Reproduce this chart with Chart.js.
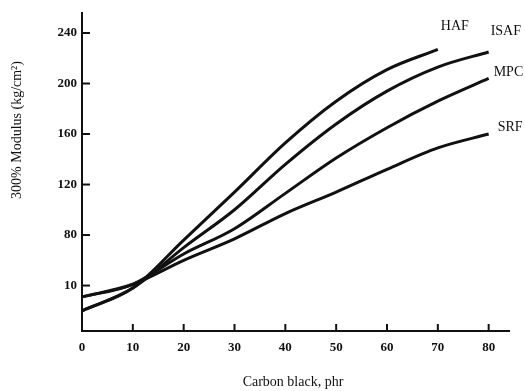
<!DOCTYPE html>
<html>
<head>
<meta charset="utf-8">
<script src="https://cdn.jsdelivr.net/npm/chart.js@4/dist/chart.umd.min.js"></script>
<style>
  html, body { margin: 0; padding: 0; background: #fff; }
  #wrap { width: 525px; height: 391px; }
</style>
</head>
<body>
<div id="wrap"><canvas id="modulusCanvas" width="525" height="391"></canvas></div>
<script>
// carbon black loading (phr) and 300% modulus (kg/cm2)
var phr = [0, 10, 20, 30, 40, 50, 60, 70, 80];
var phrHAF = [0, 10, 20, 30, 40, 50, 60, 70];
var haf = [20, 38, 76, 114, 153, 186, 211, 227];
var isaf = [20, 38, 70, 100, 136, 168, 194, 213, 225];
var mpc = [31, 41, 65, 85, 113, 141, 165, 186, 204];
var srf = [31, 41, 60, 77, 97, 114, 132, 149, 160];
var seriesNames = ["HAF", "ISAF", "MPC", "SRF"];

var xTickValues = [0, 10, 20, 30, 40, 50, 60, 70, 80];
var yTickValues = [40, 80, 120, 160, 200, 240];
var yTickLabels = ["10", "80", "120", "160", "200", "240"]; // as printed

var serif = "'Liberation Serif', 'DejaVu Serif', serif";

function pts(xs, ys) {
  return ys.map(function(v, i) { return { x: xs[i], y: v }; });
}

function line(name, data) {
  return {
    label: name,
    data: data,
    borderColor: "#111",
    borderWidth: 3,
    pointRadius: 0,
    fill: false,
    cubicInterpolationMode: "monotone"
  };
}

// tick marks point inward, axis titles and curve names sit beside the lines
var paperBits = {
  id: "paperBits",
  afterDraw: function(chart) {
    var ctx = chart.ctx;
    var xs = chart.scales.x, ys = chart.scales.y;
    var area = chart.chartArea;
    ctx.save();
    ctx.strokeStyle = "#111";
    ctx.lineWidth = 2;
    xTickValues.forEach(function(v) {
      if (v === 0) return;
      var px = xs.getPixelForValue(v);
      ctx.beginPath();
      ctx.moveTo(px, area.bottom);
      ctx.lineTo(px, area.bottom - 7);
      ctx.stroke();
    });
    yTickValues.forEach(function(v) {
      var py = ys.getPixelForValue(v);
      ctx.beginPath();
      ctx.moveTo(area.left, py);
      ctx.lineTo(area.left + 8, py);
      ctx.stroke();
    });

    ctx.fillStyle = "#111";
    ctx.font = "14px " + serif;
    ctx.textAlign = "left";
    ctx.textBaseline = "middle";
    chart.data.datasets.forEach(function(ds) {
      var last = ds.data[ds.data.length - 1];
      var px = xs.getPixelForValue(last.x);
      var py = ys.getPixelForValue(last.y);
      if (ds.label === "HAF") ctx.fillText(ds.label, px + 3, py - 23);
      else if (ds.label === "ISAF") ctx.fillText(ds.label, px + 2, py - 21);
      else if (ds.label === "SRF") ctx.fillText(ds.label, px + 9, py - 7);
      else ctx.fillText(ds.label, px + 5, py - 6);
    });

    ctx.textAlign = "center";
    ctx.fillText("Carbon black, phr", 293, 382);
    ctx.translate(17, 130);
    ctx.rotate(-Math.PI / 2);
    ctx.fillText("300% Modulus (kg/cm\u00b2)", 0, 0);
    ctx.restore();
  }
};

var ctx = document.getElementById("modulusCanvas").getContext("2d");
var chart = new Chart(ctx, {
  type: "line",
  data: {
    datasets: [
      line(seriesNames[0], pts(phrHAF, haf)),
      line(seriesNames[1], pts(phr, isaf)),
      line(seriesNames[2], pts(phr, mpc)),
      line(seriesNames[3], pts(phr, srf))
    ]
  },
  options: {
    responsive: false,
    animation: false,
    layout: { padding: { left: 0, top: 5, right: 16, bottom: 0 } },
    plugins: {
      legend: { display: false },
      tooltip: { enabled: false }
    },
    scales: {
      x: {
        type: "linear",
        min: 0,
        max: 84,
        afterFit: function(scale) { scale.height = 60; },
        afterBuildTicks: function(scale) {
          scale.ticks = xTickValues.map(function(v) { return { value: v }; });
        },
        grid: { drawOnChartArea: false, drawTicks: false },
        border: { color: "#111", width: 2 },
        ticks: {
          padding: 9,
          color: "#111",
          font: { family: serif, size: 13, weight: "bold" },
          maxRotation: 0
        }
      },
      y: {
        type: "linear",
        min: 4,
        max: 256,
        afterFit: function(scale) { scale.width = 82; },
        afterBuildTicks: function(scale) {
          scale.ticks = yTickValues.map(function(v) { return { value: v }; });
        },
        grid: { drawOnChartArea: false, drawTicks: false },
        border: { color: "#111", width: 2 },
        ticks: {
          padding: 5,
          color: "#111",
          font: { family: serif, size: 13, weight: "bold" },
          callback: function(value) {
            var i = yTickValues.indexOf(value);
            return i >= 0 ? yTickLabels[i] : "";
          }
        }
      }
    }
  },
  plugins: [paperBits]
});
</script>
</body>
</html>
